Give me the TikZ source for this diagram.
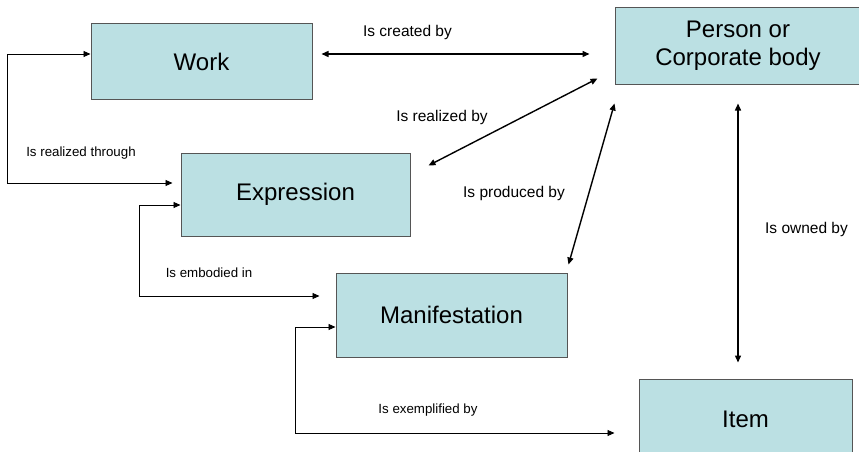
\documentclass[tikz,border=0pt]{standalone}
\usepackage{fontspec}
\setmainfont{Liberation Sans}
\usetikzlibrary{arrows.meta}
\definecolor{boxfill}{HTML}{BBE0E3}
\definecolor{boxline}{HTML}{555555}
\tikzset{
  entity/.style={draw=boxline, fill=boxfill, line width=1pt, inner sep=0pt,
    align=center, font=\fontsize{24}{28}\selectfont},
  bigrel/.style={anchor=base, inner sep=0pt, font=\fontsize{15.5}{18}\selectfont},
  smallrel/.style={anchor=base, inner sep=0pt, font=\fontsize{13.3}{16}\selectfont},
  both/.style={{Triangle[length=7pt,width=6pt]}-{Triangle[length=7pt,width=6pt]}, line width=1.4pt},
  loopline/.style={{Triangle[length=7pt,width=6pt]}-{Triangle[length=7pt,width=6pt]}, line width=0.9pt}
}
\begin{document}
\begin{tikzpicture}[x=1pt,y=-1pt]
\useasboundingbox (0,0) rectangle (859,452);
\clip (0,0) rectangle (859,452);
% entities
\node[entity, minimum width=221, minimum height=75] (work) at (201.5,61.5) {Work};
\node[entity, minimum width=246, minimum height=76] (person) at (738,46) {Person or\\Corporate body};
\node[entity, minimum width=229, minimum height=83] (expr) at (295.5,194.5) {Expression};
\node[entity, minimum width=231, minimum height=84] (manif) at (451.5,315) {Manifestation};
\node[entity, minimum width=213, minimum height=81] (item) at (745.5,419.5) {Item};
% labels
\node[bigrel] (lcreated) at (407.5,37) {Is created by};
\node[bigrel] (lrealby) at (442,121) {Is realized by};
\node[bigrel] (lprod) at (514,197) {Is produced by};
\node[bigrel] (lowned) at (806.5,233) {Is owned by};
\node[smallrel] (lrealthr) at (81,156) {Is realized through};
\node[smallrel] (lembod) at (209,277) {Is embodied in};
\node[smallrel] (lexempl) at (428,413) {Is exemplified by};
% connectors
\draw[both] ([shift={(9,-7.5)}]work.east) -- ([shift={(-25,8)}]person.west);
\draw[both] ([shift={(18,13)}]expr.north east) -- ([shift={(-17,-6)}]person.south west);
\draw[both] ([shift={(1,-8)}]manif.north east) -- ([shift={(0,19)}]person.south west);
\draw[both] ([shift={(0,19)}]person.south) -- ([shift={(-7.5,-16)}]item.north);
\draw[loopline] ([shift={(0,-7.5)}]work.west) -- ++(-83,0) |- ([shift={(-8,-11.5)}]expr.west);
\draw[loopline] ([shift={(0,10.5)}]expr.west) -- ++(-41,0) |- ([shift={(-16,-19)}]manif.west);
\draw[loopline] ([shift={(0,12)}]manif.west) -- ++(-40,0) |- ([shift={(-24,13.5)}]item.west);
\end{tikzpicture}
\end{document}
